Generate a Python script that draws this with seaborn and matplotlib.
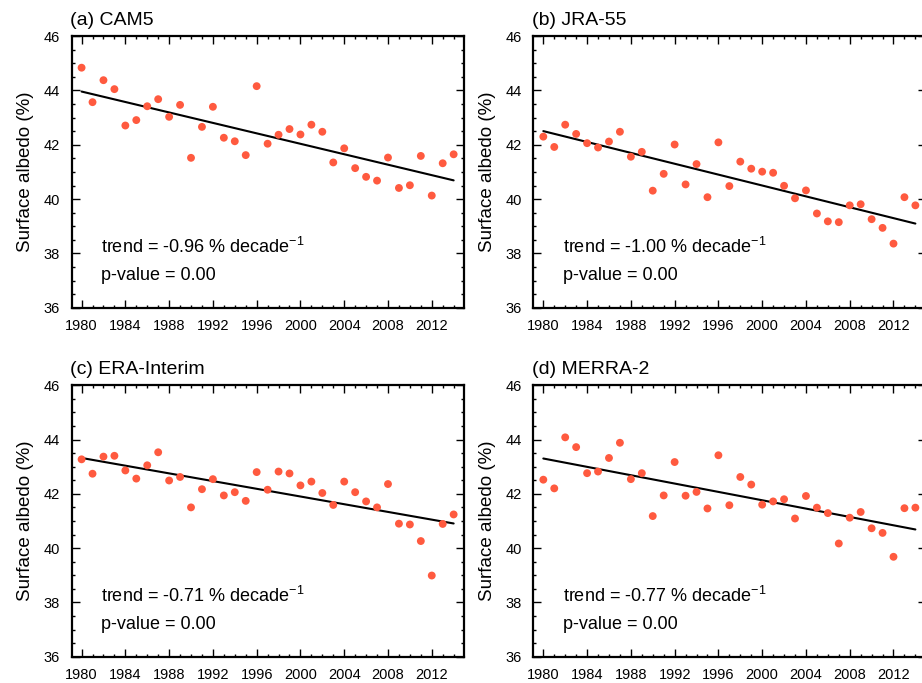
import numpy as np
import pandas as pd
import matplotlib
matplotlib.use("Agg")
import matplotlib.pyplot as plt
import seaborn as sns
from matplotlib.ticker import MultipleLocator

years = list(range(1980, 2015))

cam5 = [44.84, 43.57, 44.38, 44.05, 42.71, 42.91, 43.42, 43.68, 43.03, 43.47,
        41.52, 42.66, 43.40, 42.26, 42.13, 41.62, 44.16, 42.04, 42.37, 42.58,
        42.38, 42.74, 42.48, 41.35, 41.87, 41.14, 40.82, 40.68, 41.53, 40.41,
        40.51, 41.59, 40.13, 41.32, 41.65]

jra55 = [42.30, 41.92, 42.74, 42.40, 42.06, 41.90, 42.12, 42.48, 41.56, 41.74,
         40.31, 40.93, 42.01, 40.54, 41.29, 40.07, 42.09, 40.48, 41.38, 41.12,
         41.01, 40.97, 40.49, 40.03, 40.32, 39.47, 39.18, 39.15, 39.77, 39.81,
         39.26, 38.94, 38.36, 40.07, 39.77]

era_interim = [43.27, 42.74, 43.37, 43.40, 42.86, 42.56, 43.05, 43.53, 42.49, 42.62,
               41.50, 42.17, 42.54, 41.94, 42.06, 41.74, 42.80, 42.15, 42.82, 42.75,
               42.31, 42.45, 42.03, 41.59, 42.45, 42.06, 41.72, 41.50, 42.36, 40.90,
               40.87, 40.26, 38.99, 40.89, 41.24]

merra2 = [42.52, 42.20, 44.08, 43.72, 42.76, 42.82, 43.32, 43.88, 42.54, 42.76,
          41.18, 41.94, 43.17, 41.93, 42.07, 41.46, 43.42, 41.58, 42.62, 42.34,
          41.60, 41.72, 41.80, 41.09, 41.92, 41.49, 41.29, 40.17, 41.12, 41.33,
          40.73, 40.56, 39.68, 41.47, 41.49]

titles = ["(a) CAM5", "(b) JRA-55", "(c) ERA-Interim", "(d) MERRA-2"]
trends = ["-0.96", "-1.00", "-0.71", "-0.77"]
pvalues = ["0.00", "0.00", "0.00", "0.00"]
series = [cam5, jra55, era_interim, merra2]

sns.set_style("ticks")
plt.rcParams['font.family'] = ['Liberation Sans', 'DejaVu Sans']
plt.rcParams['mathtext.fontset'] = 'custom'
plt.rcParams['mathtext.rm'] = 'Liberation Sans'
plt.rcParams['text.color'] = 'black'
plt.rcParams['axes.labelcolor'] = 'black'
plt.rcParams['xtick.color'] = 'black'
plt.rcParams['ytick.color'] = 'black'

fig = plt.figure(figsize=(9.22, 6.83), dpi=100)

# axes boxes in figure fraction; right column runs past the figure edge (cropped like the original)
lefts = [0.0778, 0.5786, 0.0778, 0.5786]
bottoms = [0.5495, 0.5495, 0.0385, 0.0385]
w, h = 0.4255, 0.3975

dot_color = "#ff5a3f"

for i in range(4):
    ax = fig.add_axes([lefts[i], bottoms[i], w, h])
    df = pd.DataFrame({"year": years, "albedo": series[i]})
    sns.regplot(data=df, x="year", y="albedo", ax=ax, ci=None, truncate=True,
                scatter_kws=dict(s=32, color=dot_color, alpha=1, edgecolors="none", zorder=3),
                line_kws=dict(color="black", linewidth=1.5, zorder=2))

    ax.set_xlim(1979.1, 2014.95)
    ax.set_ylim(36, 46)
    ax.xaxis.set_major_locator(MultipleLocator(4))
    ax.xaxis.set_minor_locator(MultipleLocator(1))
    ax.yaxis.set_major_locator(MultipleLocator(2))
    ax.yaxis.set_minor_locator(MultipleLocator(0.5))
    ax.tick_params(which="both", direction="in", top=True, right=True, width=1, color="black")
    ax.tick_params(which="major", length=5.5)
    ax.tick_params(which="minor", length=2.5)
    ax.tick_params(axis="y", which="major", labelsize=10.5, pad=8.5)
    ax.tick_params(axis="x", which="major", labelsize=10.5, pad=8)
    for sp in ax.spines.values():
        sp.set_visible(True)
        sp.set_linewidth(1.6)
        sp.set_color("black")

    ax.set_xlabel("")
    ax.set_ylabel("Surface albedo (%)", fontsize=13.5, labelpad=7)
    ax.set_title(titles[i], loc="left", fontsize=14, pad=8, x=-0.005)

    ax.text(0.074, 0.225, f"trend = {trends[i]} % decade$^{{-1}}$",
            transform=ax.transAxes, fontsize=13, va="center", ha="left")
    ax.text(0.074, 0.12, f"p-value = {pvalues[i]}",
            transform=ax.transAxes, fontsize=13, va="center", ha="left")

fig.savefig("out.png", dpi=100)
